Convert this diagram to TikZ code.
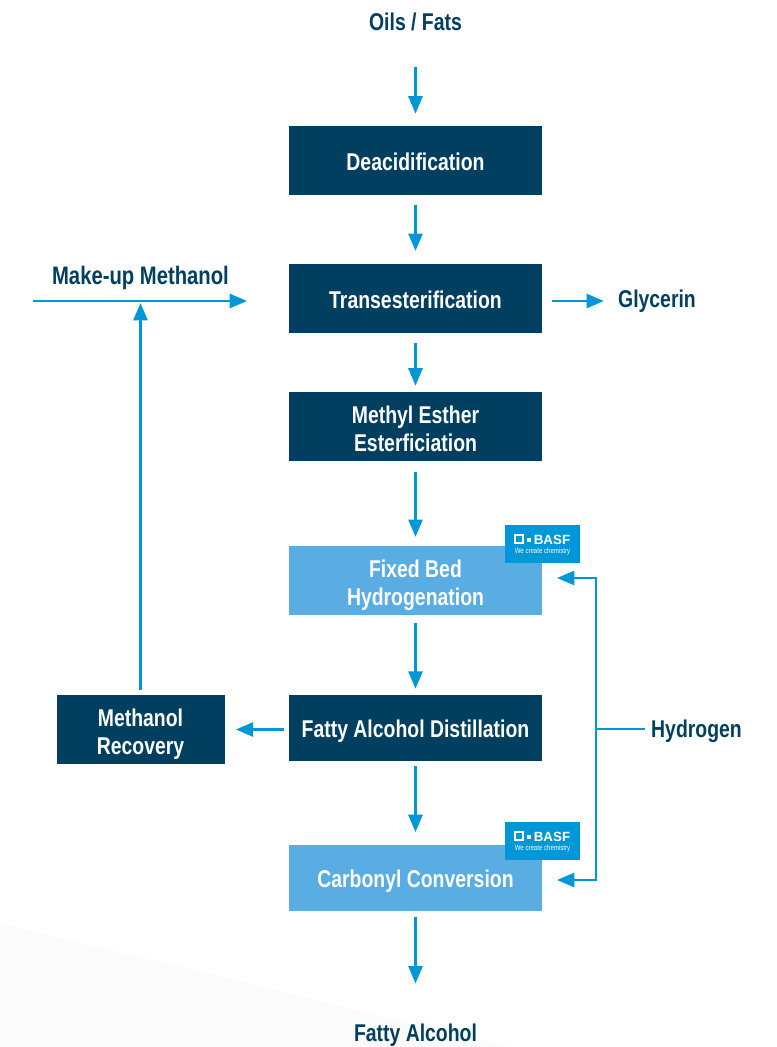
\documentclass[tikz,border=0pt]{standalone}
\usepackage{fontspec}
\setmainfont{Liberation Sans}[FakeStretch=0.8,BoldFont={Liberation Sans Bold}]
\newfontfamily\logofont{Liberation Sans Bold}
\usetikzlibrary{arrows.meta}
\definecolor{basfdark}{HTML}{003F5F}
\definecolor{basflight}{HTML}{5AADE2}
\definecolor{basfblue}{HTML}{0097D9}
\definecolor{wedgegray}{HTML}{FBFBFB}
\tikzset{
  darkbox/.style={fill=basfdark,text=white,minimum width=190pt,minimum height=52pt,align=center,font=\fontsize{18.2}{21}\selectfont\bfseries,inner sep=0pt,
    execute at begin node={\rule{0pt}{18.8pt}},execute at end node={\rule[-4pt]{0pt}{4pt}}},
  lightbox/.style={darkbox,fill=basflight},
  twoline/.style={execute at begin node={\rule{0pt}{41.5pt}}},
  label/.style={text=basfdark,font=\fontsize{18.2}{21}\selectfont\bfseries,inner sep=0pt},
  flow/.style={draw=basfblue,line width=2pt,-{Triangle[length=13pt,width=10.5pt]}},
  wire/.style={draw=basfblue,line width=2pt},
}
\begin{document}
\begin{tikzpicture}[x=0.75pt,y=-0.75pt]
    \useasboundingbox (0,0) rectangle (776,1047);
    \fill[wedgegray] (0,923) -- (510,1047) -- (0,1047) -- cycle;
    % column of process steps
    \node[label] (oils) at (415.5,22) {Oils / Fats};
    \node[darkbox] (deacid) at (415.5,160.5) {Deacidification};
    \node[darkbox] (trans) at (415.5,298.5) {Transesterification};
    \node[darkbox,twoline] (methyl) at (415.5,426.5) {Methyl Esther\\Esterficiation};
    \node[lightbox,twoline] (fixedbed) at (415.5,580.5) {Fixed Bed\\Hydrogenation};
    \node[darkbox,minimum height=49.5pt] (distill) at (415.5,728) {Fatty Alcohol Distillation};
    \node[lightbox,minimum height=49.5pt] (carbonyl) at (415.5,878) {Carbonyl Conversion};
    \node[label] (fatty) at (415.5,1035) {Fatty Alcohol};
    % side streams
    \node[darkbox,twoline,minimum width=126pt] (recovery) at (140.5,729.5) {Methanol\\Recovery};
    \node[label,font=\fontsize{19}{21}\selectfont\bfseries] (makeup) at (140.5,278) {Make-up Methanol};
    \node[label] (glycerin) at (657,301) {Glycerin};
    \node[label] (hydrogen) at (696.5,731) {Hydrogen};
    \coordinate (makestart) at (33,301);
    \coordinate (makeend) at (247,301);
    \coordinate (recoveryend) at (140.5,303);
    \coordinate (hjoin) at (596,729);
    \coordinate (fixedin) at (557,578);
    \coordinate (carbonylin) at (557,880);
    % BASF badges
    \foreach \name/\y in {fixedlogo/525,carbonyllogo/822} {
      \node[fill=basfblue,minimum width=56.25pt,minimum height=28.5pt,inner sep=0pt] (\name) at (542.5,\y+19) {};
      \node[draw=white,line width=1.9pt,minimum size=6pt,inner sep=0pt] (\name sq) at (519,\y+14) {};
      \node[fill=white,minimum size=3.5pt,inner sep=0pt] (\name dot) at (529,\y+15) {};
      \node[text=white,inner sep=0pt,font=\logofont\fontsize{10}{10}\selectfont] (\name txt) at (552,\y+15) {BASF};
      \node[text=white,inner sep=0pt,font=\fontsize{5.7}{6}\selectfont] (\name tag) at (542.5,\y+27) {We create chemistry};
    }
    % connectors
    \draw[flow,shorten <=27pt,shorten >=9pt] (oils.south) -- (deacid.north);
    \draw[flow,shorten <=7.5pt,shorten >=9.5pt] (deacid) -- (trans);
    \draw[flow,shorten <=7.5pt,shorten >=4.5pt] (trans) -- (methyl);
    \draw[flow,shorten <=8pt,shorten >=6.5pt] (methyl) -- (fixedbed);
    \draw[flow,shorten <=6pt,shorten >=4.5pt] (fixedbed) -- (distill);
    \draw[flow,shorten <=3.5pt,shorten >=9.5pt] (distill) -- (carbonyl);
    \draw[flow,shorten <=4.5pt,shorten >=30pt] (carbonyl) -- (fatty);
    \draw[flow,yshift=0.75pt,shorten <=7.5pt,shorten >=10.5pt] (trans.east |- glycerin) -- (glycerin.west);
    \draw[flow,shorten <=3.75pt,shorten >=8.25pt] (distill.west |- recovery.east) -- (recovery.east);
    \draw[flow] (recovery.north) ++(0,-5) -- (recoveryend);
    \draw[flow] (makestart) -- (makeend);
    \draw[wire,shorten <=4.5pt] (hydrogen.west |- hjoin) -- (hjoin);
    \draw[flow] (hjoin) |- (fixedin);
    \draw[flow] (hjoin) |- (carbonylin);
  \end{tikzpicture}
\end{document}
